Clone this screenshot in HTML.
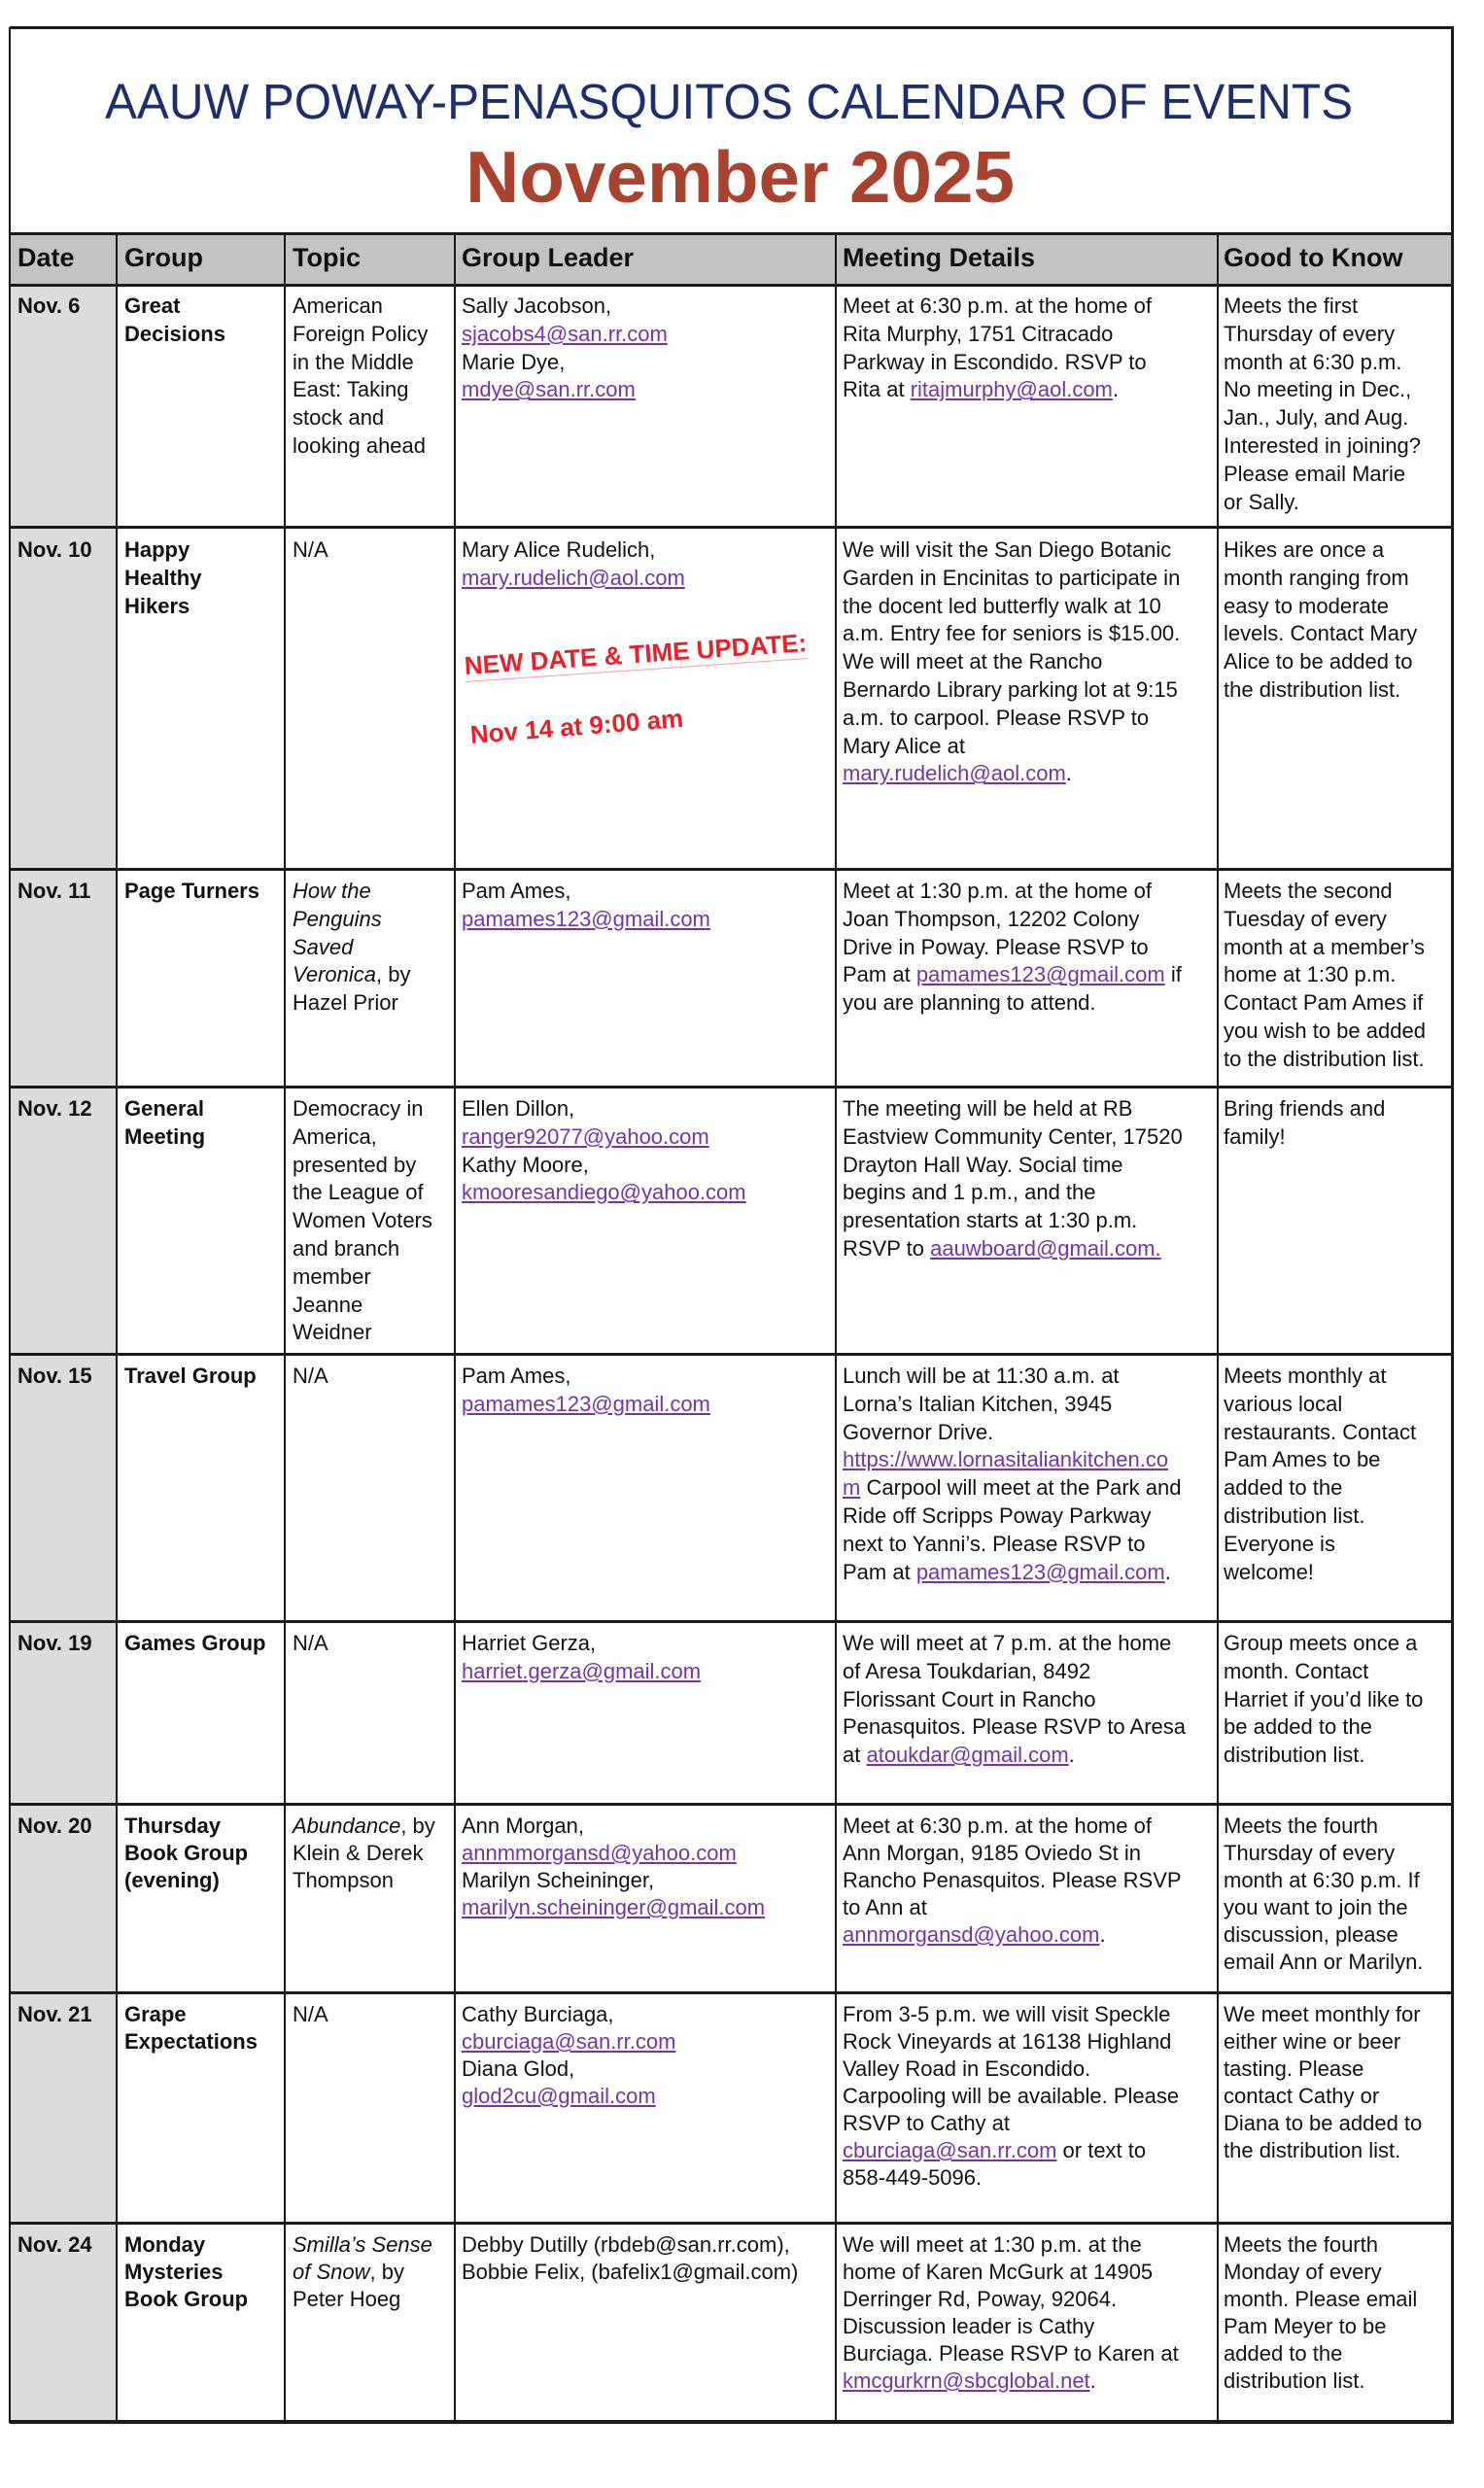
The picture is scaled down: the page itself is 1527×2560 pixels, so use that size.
<!DOCTYPE html>
<html><head><meta charset="utf-8">
<style>
html,body{margin:0;padding:0;background:#fff;}
body{width:1527px;height:2560px;position:relative;overflow:hidden;font-family:"Liberation Sans",Arial,sans-serif;color:#111;}
.h{position:absolute;background:#1a1a1a;}
.v{position:absolute;background:#1a1a1a;width:2px;}
.bg{position:absolute;}
.t{position:absolute;font-size:22px;line-height:28.8px;white-space:nowrap;}
.b{font-weight:bold;}
.hd{position:absolute;font-size:27px;font-weight:bold;white-space:nowrap;top:250px;}
a,.l{color:#7434a8;text-decoration:underline;}
.red{position:absolute;color:#e8202a;font-weight:bold;white-space:nowrap;font-family:"Liberation Sans",Arial,sans-serif;}
</style></head><body>

<div class="bg" style="left:10px;top:240px;width:1484px;height:53px;background:#c3c3c3"></div>
<div class="bg" style="left:10px;top:293px;width:110px;height:2199px;background:#dcdcdc"></div>

<svg style="position:absolute;left:0;top:0" width="1527" height="240">
<text x="108" y="122" textLength="1284" lengthAdjust="spacingAndGlyphs" font-family="Liberation Sans, Arial, sans-serif" font-size="51" fill="#1c2e6e">AAUW POWAY-PENASQUITOS CALENDAR OF EVENTS</text>
<text x="479" y="208" textLength="565" lengthAdjust="spacingAndGlyphs" font-family="Liberation Sans, Arial, sans-serif" font-size="75" font-weight="bold" fill="#a9432f">November 2025</text>
</svg>

<div class="h" style="left:10px;top:27px;width:1486px;height:3px"></div>
<div class="h" style="left:10px;top:239px;width:1486px;height:3px"></div>
<div class="h" style="left:10px;top:292px;width:1486px;height:3px"></div>
<div class="h" style="left:10px;top:541px;width:1486px;height:3px"></div>
<div class="h" style="left:10px;top:893px;width:1486px;height:3px"></div>
<div class="h" style="left:10px;top:1117px;width:1486px;height:3px"></div>
<div class="h" style="left:10px;top:1392px;width:1486px;height:3px"></div>
<div class="h" style="left:10px;top:1667px;width:1486px;height:3px"></div>
<div class="h" style="left:10px;top:1855px;width:1486px;height:3px"></div>
<div class="h" style="left:10px;top:2049px;width:1486px;height:3px"></div>
<div class="h" style="left:10px;top:2286px;width:1486px;height:3px"></div>
<div class="h" style="left:10px;top:2490px;width:1486px;height:4px"></div>

<div class="v" style="left:9px;top:28px;height:2465px"></div>
<div class="v" style="left:1493px;top:28px;height:2465px;width:3px"></div>
<div class="v" style="left:119px;top:240px;height:2252px"></div>
<div class="v" style="left:292px;top:240px;height:2252px"></div>
<div class="v" style="left:467px;top:240px;height:2252px"></div>
<div class="v" style="left:859px;top:240px;height:2252px"></div>
<div class="v" style="left:1252px;top:240px;height:2252px"></div>

<div class="hd" style="left:18px">Date</div>
<div class="hd" style="left:128px">Group</div>
<div class="hd" style="left:301px">Topic</div>
<div class="hd" style="left:475px">Group Leader</div>
<div class="hd" style="left:867px">Meeting Details</div>
<div class="hd" style="left:1259px">Good to Know</div>

<div class="t b" style="left:18px;top:301px">Nov. 6</div>
<div class="t b" style="left:128px;top:301px">Great<br>Decisions</div>
<div class="t" style="left:301px;top:301px">American<br>Foreign Policy<br>in the Middle<br>East: Taking<br>stock and<br>looking ahead</div>
<div class="t" style="left:475px;top:301px">Sally Jacobson,<br><span class="l">sjacobs4@san.rr.com</span><br>Marie Dye,<br><span class="l">mdye@san.rr.com</span></div>
<div class="t" style="left:867px;top:301px">Meet at 6:30 p.m. at the home of<br>Rita Murphy, 1751 Citracado<br>Parkway in Escondido. RSVP to<br>Rita at <span class="l">ritajmurphy@aol.com</span>.</div>
<div class="t" style="left:1259px;top:301px">Meets the first<br>Thursday of every<br>month at 6:30 p.m.<br>No meeting in Dec.,<br>Jan., July, and Aug.<br>Interested in joining?<br>Please email Marie<br>or Sally.</div>

<div class="t b" style="left:18px;top:552px">Nov. 10</div>
<div class="t b" style="left:128px;top:552px">Happy<br>Healthy<br>Hikers</div>
<div class="t" style="left:301px;top:552px">N/A</div>
<div class="t" style="left:475px;top:552px">Mary Alice Rudelich,<br><span class="l">mary.rudelich@aol.com</span></div>
<div class="red" style="left:478px;top:670px;font-size:26px;transform:rotate(-3.9deg);transform-origin:0 50%;border-bottom:1px solid #f4a0a4">NEW DATE &amp; TIME UPDATE:</div>
<div class="red" style="left:484px;top:741px;font-size:26px;transform:rotate(-4.5deg);transform-origin:0 50%">Nov 14 at 9:00 am</div>
<div class="t" style="left:867px;top:552px">We will visit the San Diego Botanic<br>Garden in Encinitas to participate in<br>the docent led butterfly walk at 10<br>a.m. Entry fee for seniors is $15.00.<br>We will meet at the Rancho<br>Bernardo Library parking lot at 9:15<br>a.m. to carpool. Please RSVP to<br>Mary Alice at<br><span class="l">mary.rudelich@aol.com</span>.</div>
<div class="t" style="left:1259px;top:552px">Hikes are once a<br>month ranging from<br>easy to moderate<br>levels. Contact Mary<br>Alice to be added to<br>the distribution list.</div>

<div class="t b" style="left:18px;top:903px">Nov. 11</div>
<div class="t b" style="left:128px;top:903px">Page Turners</div>
<div class="t" style="left:301px;top:903px"><i>How the<br>Penguins<br>Saved<br>Veronica</i>, by<br>Hazel Prior</div>
<div class="t" style="left:475px;top:903px">Pam Ames,<br><span class="l">pamames123@gmail.com</span></div>
<div class="t" style="left:867px;top:903px">Meet at 1:30 p.m. at the home of<br>Joan Thompson, 12202 Colony<br>Drive in Poway. Please RSVP to<br>Pam at <span class="l">pamames123@gmail.com</span> if<br>you are planning to attend.</div>
<div class="t" style="left:1259px;top:903px">Meets the second<br>Tuesday of every<br>month at a member’s<br>home at 1:30 p.m.<br>Contact Pam Ames if<br>you wish to be added<br>to the distribution list.</div>

<div class="t b" style="left:18px;top:1127px">Nov. 12</div>
<div class="t b" style="left:128px;top:1127px">General<br>Meeting</div>
<div class="t" style="left:301px;top:1127px">Democracy in<br>America,<br>presented by<br>the League of<br>Women Voters<br>and branch<br>member<br>Jeanne<br>Weidner</div>
<div class="t" style="left:475px;top:1127px">Ellen Dillon,<br><span class="l">ranger92077@yahoo.com</span><br>Kathy Moore,<br><span class="l">kmooresandiego@yahoo.com</span></div>
<div class="t" style="left:867px;top:1127px">The meeting will be held at RB<br>Eastview Community Center, 17520<br>Drayton Hall Way. Social time<br>begins and 1 p.m., and the<br>presentation starts at 1:30 p.m.<br>RSVP to <span class="l">aauwboard@gmail.com.</span></div>
<div class="t" style="left:1259px;top:1127px">Bring friends and<br>family!</div>

<div class="t b" style="left:18px;top:1402px">Nov. 15</div>
<div class="t b" style="left:128px;top:1402px">Travel Group</div>
<div class="t" style="left:301px;top:1402px">N/A</div>
<div class="t" style="left:475px;top:1402px">Pam Ames,<br><span class="l">pamames123@gmail.com</span></div>
<div class="t" style="left:867px;top:1402px">Lunch will be at 11:30 a.m. at<br>Lorna’s Italian Kitchen, 3945<br>Governor Drive.<br><span class="l">https://www.lornasitaliankitchen.co</span><br><span class="l">m</span> Carpool will meet at the Park and<br>Ride off Scripps Poway Parkway<br>next to Yanni’s. Please RSVP to<br>Pam at <span class="l">pamames123@gmail.com</span>.</div>
<div class="t" style="left:1259px;top:1402px">Meets monthly at<br>various local<br>restaurants. Contact<br>Pam Ames to be<br>added to the<br>distribution list.<br>Everyone is<br>welcome!</div>

<div class="t b" style="left:18px;top:1677px">Nov. 19</div>
<div class="t b" style="left:128px;top:1677px">Games Group</div>
<div class="t" style="left:301px;top:1677px">N/A</div>
<div class="t" style="left:475px;top:1677px">Harriet Gerza,<br><span class="l">harriet.gerza@gmail.com</span></div>
<div class="t" style="left:867px;top:1677px">We will meet at 7 p.m. at the home<br>of Aresa Toukdarian, 8492<br>Florissant Court in Rancho<br>Penasquitos. Please RSVP to Aresa<br>at <span class="l">atoukdar@gmail.com</span>.</div>
<div class="t" style="left:1259px;top:1677px">Group meets once a<br>month. Contact<br>Harriet if you’d like to<br>be added to the<br>distribution list.</div>

<div class="t b" style="left:18px;top:1865px;line-height:28px">Nov. 20</div>
<div class="t b" style="left:128px;top:1865px;line-height:28px">Thursday<br>Book Group<br>(evening)</div>
<div class="t" style="left:301px;top:1865px;line-height:28px"><i>Abundance</i>, by<br>Klein &amp; Derek<br>Thompson</div>
<div class="t" style="left:475px;top:1865px;line-height:28px">Ann Morgan,<br><span class="l">annmmorgansd@yahoo.com</span><br>Marilyn Scheininger,<br><span class="l">marilyn.scheininger@gmail.com</span></div>
<div class="t" style="left:867px;top:1865px;line-height:28px">Meet at 6:30 p.m. at the home of<br>Ann Morgan, 9185 Oviedo St in<br>Rancho Penasquitos. Please RSVP<br>to Ann at<br><span class="l">annmorgansd@yahoo.com</span>.</div>
<div class="t" style="left:1259px;top:1865px;line-height:28px">Meets the fourth<br>Thursday of every<br>month at 6:30 p.m. If<br>you want to join the<br>discussion, please<br>email Ann or Marilyn.</div>

<div class="t b" style="left:18px;top:2059px;line-height:28px">Nov. 21</div>
<div class="t b" style="left:128px;top:2059px;line-height:28px">Grape<br>Expectations</div>
<div class="t" style="left:301px;top:2059px;line-height:28px">N/A</div>
<div class="t" style="left:475px;top:2059px;line-height:28px">Cathy Burciaga,<br><span class="l">cburciaga@san.rr.com</span><br>Diana Glod,<br><span class="l">glod2cu@gmail.com</span></div>
<div class="t" style="left:867px;top:2059px;line-height:28px">From 3-5 p.m. we will visit Speckle<br>Rock Vineyards at 16138 Highland<br>Valley Road in Escondido.<br>Carpooling will be available. Please<br>RSVP to Cathy at<br><span class="l">cburciaga@san.rr.com</span> or text to<br>858-449-5096.</div>
<div class="t" style="left:1259px;top:2059px;line-height:28px">We meet monthly for<br>either wine or beer<br>tasting. Please<br>contact Cathy or<br>Diana to be added to<br>the distribution list.</div>

<div class="t b" style="left:18px;top:2296px;line-height:28px">Nov. 24</div>
<div class="t b" style="left:128px;top:2296px;line-height:28px">Monday<br>Mysteries<br>Book Group</div>
<div class="t" style="left:301px;top:2296px;line-height:28px"><i>Smilla’s Sense<br>of Snow</i>, by<br>Peter Hoeg</div>
<div class="t" style="left:475px;top:2296px;line-height:28px">Debby Dutilly (rbdeb@san.rr.com),<br>Bobbie Felix, (bafelix1@gmail.com)</div>
<div class="t" style="left:867px;top:2296px;line-height:28px">We will meet at 1:30 p.m. at the<br>home of Karen McGurk at 14905<br>Derringer Rd, Poway, 92064.<br>Discussion leader is Cathy<br>Burciaga. Please RSVP to Karen at<br><span class="l">kmcgurkrn@sbcglobal.net</span>.</div>
<div class="t" style="left:1259px;top:2296px;line-height:28px">Meets the fourth<br>Monday of every<br>month. Please email<br>Pam Meyer to be<br>added to the<br>distribution list.</div>

</body></html>
